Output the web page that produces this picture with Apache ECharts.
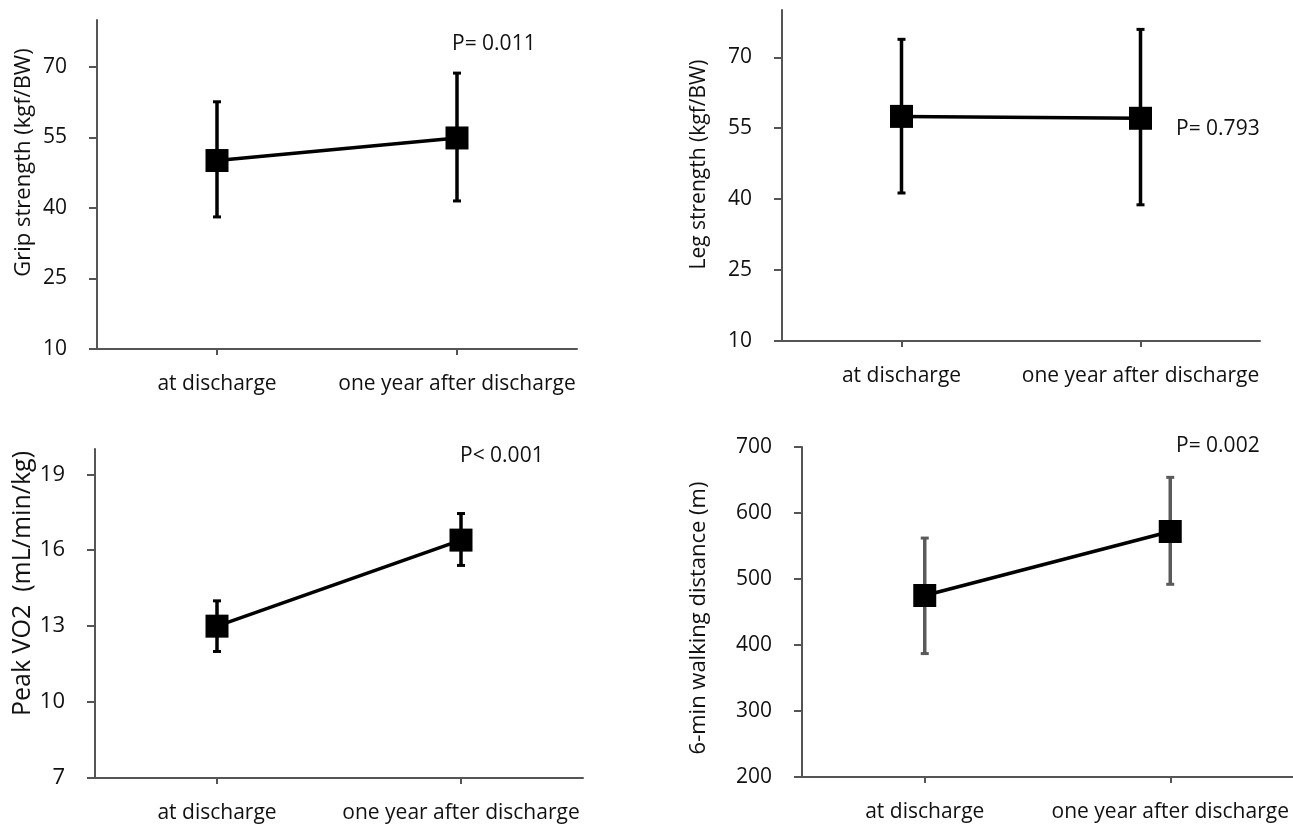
<!DOCTYPE html>
<html>
<head>
<meta charset="utf-8">
<script src="https://cdn.jsdelivr.net/npm/echarts@6/dist/echarts.min.js"></script>
<style>
html,body{margin:0;padding:0;background:#fff;}
#chart{width:1293px;height:824px;}
</style>
</head>
<body>
<div id="chart"></div>
<script>
// ---- data ----
const categories = ['at discharge', 'one year after discharge'];

const gripMean = [50.1, 54.9];
const gripLow  = [38.1, 41.5];
const gripHigh = [62.6, 68.7];
const gripTicks = [10, 25, 40, 55, 70];

const legMean = [57.5, 57.1];
const legLow  = [41.3, 38.8];
const legHigh = [73.8, 75.9];
const legTicks = [10, 25, 40, 55, 70];

const vo2Mean = [13.0, 16.4];
const vo2Low  = [12.0, 15.4];
const vo2High = [14.0, 17.45];
const vo2Ticks = [7, 10, 13, 16, 19];

const walkMean = [475, 572];
const walkLow  = [387, 492];
const walkHigh = [562, 654];
const walkTicks = [200, 300, 400, 500, 600, 700];

const pLabels = ['P= 0.011', 'P= 0.793', 'P< 0.001', 'P= 0.002'];
const yNames = ['Grip strength (kgf/BW)', 'Leg strength (kgf/BW)', 'Peak VO2  (mL/min/kg)', '6-min walking distance (m)'];

// ---- layout ----
const FONT = 'Open Sans';
const panels = [
  {grid:{left:97, top:20, width:480, height:329}, min:10, max:80, ticks:gripTicks, mean:gripMean, low:gripLow, high:gripHigh, barColor:'#000',
   nameGap:62, nameSize:22, namePad:[0,0,0,44], tickSize:21, p:{x:452, y:43}},
  {grid:{left:782, top:10, width:478, height:331}, min:10, max:80, ticks:legTicks, mean:legMean, low:legLow, high:legHigh, barColor:'#000',
   nameGap:72, nameSize:21, namePad:[0,0,0,22], tickSize:21, p:{x:1176, y:128}},
  {grid:{left:95, top:449, width:488, height:330}, min:7, max:20, ticks:vo2Ticks, mean:vo2Mean, low:vo2Low, high:vo2High, barColor:'#000',
   nameGap:60, nameSize:25, namePad:[0,0,0,60], tickSize:22, p:{x:460, y:455}},
  {grid:{left:802, top:447, width:491, height:330}, min:200, max:700, ticks:walkTicks, mean:walkMean, low:walkLow, high:walkHigh, barColor:'#5a5a5a',
   nameGap:92, nameSize:22, namePad:[0,12,0,0], tickSize:21, p:{x:1176, y:445}}
];

const axisLineStyle = {color:'#555', width:2};
const grids = [], xAxes = [], yAxes = [], series = [], graphics = [];

panels.forEach((pn, i) => {
  grids.push(Object.assign({containLabel:false}, pn.grid));
  xAxes.push({
    type:'category', gridIndex:i, data:categories, boundaryGap:true,
    axisLine:{show:true, lineStyle:axisLineStyle},
    axisTick:{show:true, alignWithLabel:true, length:6, lineStyle:axisLineStyle},
    axisLabel:{color:'#111', fontSize:21, fontFamily:FONT, margin:25, interval:0},
    splitLine:{show:false}
  });
  yAxes.push({
    type:'value', gridIndex:i, min:pn.min, max:pn.max,
    name:yNames[i], nameLocation:'middle', nameGap:pn.nameGap,
    nameTextStyle:{color:'#111', fontSize:pn.nameSize, fontFamily:FONT, padding:pn.namePad},
    axisLine:{show:true, lineStyle:axisLineStyle},
    axisTick:{show:true, length:8, lineStyle:axisLineStyle, customValues:pn.ticks},
    axisLabel:{color:'#111', fontSize:pn.tickSize, fontFamily:FONT, margin:30, customValues:pn.ticks},
    splitLine:{show:false}
  });
  const barColor = pn.barColor;
  series.push({
    type:'custom', xAxisIndex:i, yAxisIndex:i, z:2,
    data: categories.map((c, k) => [k, pn.low[k], pn.high[k]]),
    renderItem: function(params, api){
      const x = api.value(0);
      const pLo = api.coord([x, api.value(1)]);
      const pHi = api.coord([x, api.value(2)]);
      const cap = 4;
      const st = {stroke:barColor, lineWidth:3.5};
      const cs = {stroke:barColor, lineWidth:3};
      return {type:'group', children:[
        {type:'line', shape:{x1:pLo[0], y1:pLo[1], x2:pHi[0], y2:pHi[1]}, style:st},
        {type:'line', shape:{x1:pLo[0]-cap, y1:pLo[1], x2:pLo[0]+cap, y2:pLo[1]}, style:cs},
        {type:'line', shape:{x1:pHi[0]-cap, y1:pHi[1], x2:pHi[0]+cap, y2:pHi[1]}, style:cs}
      ]};
    },
    silent:true
  });
  series.push({
    type:'line', xAxisIndex:i, yAxisIndex:i, z:3,
    data: pn.mean,
    symbol:'rect', symbolSize:23, showSymbol:true,
    itemStyle:{color:'#000'},
    lineStyle:{color:'#000', width:3.5},
    silent:true, animation:false
  });
  graphics.push({
    type:'text', left:pn.p.x, top:pn.p.y - 9,
    style:{text:pLabels[i], fill:'#111', font:'21px "' + FONT + '"'}
  });
});

const chart = echarts.init(document.getElementById('chart'));
chart.setOption({
  animation:false,
  backgroundColor:'#fff',
  grid:grids, xAxis:xAxes, yAxis:yAxes, series:series, graphic:graphics
});
</script>
</body>
</html>
